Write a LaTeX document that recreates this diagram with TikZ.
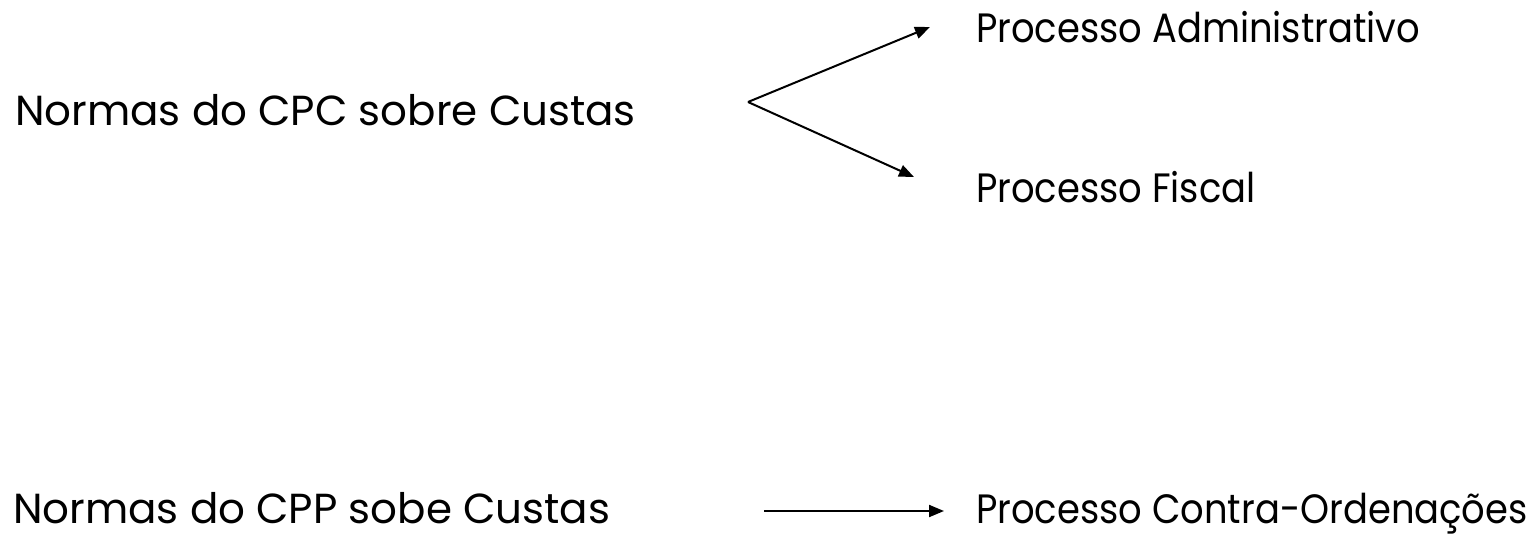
\documentclass[tikz,border=0pt]{standalone}
\usepackage{fontspec}
\setmainfont{Poppins}
\newfontfamily\srcfont{Poppins}
\newfontfamily\tgtfont[FakeStretch=0.9]{Poppins}
\usetikzlibrary{arrows.meta}
\begin{document}
\begin{tikzpicture}[x=1pt,y=-1pt,
  srclbl/.style={anchor=base west, inner sep=0pt, font=\srcfont\fontsize{42}{50}\selectfont},
  tgtlbl/.style={anchor=base west, inner sep=0pt, font=\tgtfont\fontsize{41}{49}\selectfont},
  conn/.style={line width=2pt, -{Triangle[length=15pt,width=12pt]}}]
\useasboundingbox (0,0) rectangle (1530,538);
% source texts
\node[srclbl] (cpc) at (15,125) {Normas do CPC sobre Custas};
\node[srclbl] (cpp) at (13,523) {Normas do CPP sobe Custas};
% target texts
\node[tgtlbl] (adm) at (976,42)  {Processo Administrativo};
\node[tgtlbl] (fis) at (976,202) {Processo Fiscal};
\node[tgtlbl] (co)  at (976,523) {Processo Contra-Ordenações};
% connector points
\coordinate (fork) at (748,102);
\coordinate (admtip) at (930,27);
\coordinate (fistip) at (914,177);
\coordinate (cpptail) at (764,511);
\coordinate (cotip) at (944,511);
\draw[conn] (fork) -- (admtip);
\draw[conn] (fork) -- (fistip);
\draw[conn] (cpptail) -- (cotip);
\end{tikzpicture}
\end{document}
